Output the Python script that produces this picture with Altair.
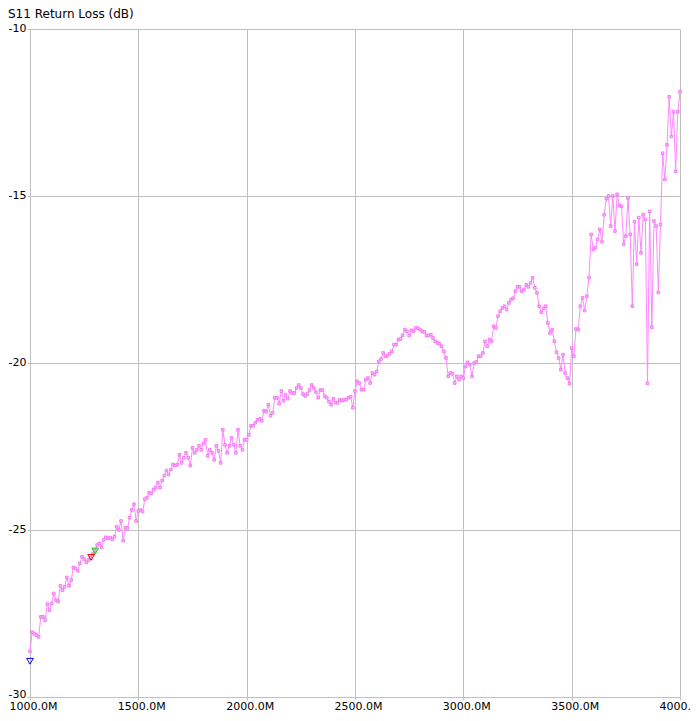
import altair as alt
import pandas as pd

title_text = "S11 Return Loss (dB)"

# sweep frequencies (MHz), 10 MHz step
freq_mhz = list(range(1000, 4001, 10))

s11_1000_1610 = [
    -28.63, -28.06, -28.10, -28.15, -28.20, -27.60, -27.60, -27.70, -27.22, -27.40,
    -27.20, -26.90, -27.10, -27.14, -26.67, -26.80, -26.70, -26.42, -26.67, -26.50,
    -26.12, -26.15, -26.22, -26.00, -25.80, -25.87, -25.97, -25.90, -25.84, -25.72,
    -25.62, -25.45, -25.40, -25.52, -25.30, -25.22, -25.25, -25.23, -25.28, -25.20,
    -24.90, -25.00, -24.73, -25.32, -24.93, -24.95, -24.63, -24.40, -24.23, -24.73,
    -24.43, -24.40, -24.45, -24.08, -24.03, -23.88, -23.90, -23.79, -23.73, -23.58,
    -23.73, -23.52,
]
s11_1620_1990 = [
    -23.37, -23.22, -23.34, -23.19, -23.04, -23.07, -23.04, -22.75, -22.99, -22.84,
    -22.69, -22.84, -23.07, -22.54, -22.69, -22.60, -22.48, -22.60, -22.42, -22.30,
    -22.78, -22.60, -22.69, -22.90, -22.48, -22.63, -22.99, -22.00, -22.45, -22.69,
    -22.48, -22.24, -22.45, -22.69, -22.00, -22.48, -22.60, -22.30,
]
s11_2000_2500 = [
    -22.30, -22.15, -21.88, -21.88, -21.79, -21.70, -21.67, -21.73, -21.43, -21.46,
    -21.25, -21.58, -21.49, -21.04, -21.04, -21.22, -20.84, -21.13, -20.96, -21.07,
    -20.84, -20.90, -20.90, -20.75, -20.66, -20.75, -20.93, -20.99, -20.93, -20.81,
    -20.66, -20.75, -20.87, -21.04, -20.81, -20.81, -20.99, -21.04, -21.16, -21.25,
    -21.07, -21.19, -21.19, -21.10, -21.13, -21.10, -21.10, -21.04, -21.01, -21.34,
    -20.84,
]
s11_2510_3010 = [
    -20.55, -20.60, -20.80, -20.80, -20.50, -20.45, -20.60, -20.30, -20.35, -20.25,
    -19.95, -19.88, -19.70, -19.80, -19.78, -19.72, -19.65, -19.45, -19.45, -19.30,
    -19.28, -19.17, -19.00, -19.05, -19.18, -19.02, -19.05, -18.95, -18.96, -19.00,
    -19.05, -19.07, -19.18, -19.18, -19.15, -19.25, -19.35, -19.40, -19.42, -19.50,
    -19.65, -19.85, -20.40, -20.30, -20.32, -20.60, -20.40, -20.50, -20.40, -20.45,
    -20.10,
]
s11_3020_3530 = [
    -19.98, -20.05, -20.40, -20.00, -19.97, -19.80, -19.80, -19.70, -19.35, -19.50,
    -19.30, -19.35, -18.90, -18.95, -18.60, -18.45, -18.35, -18.30, -18.40, -18.20,
    -18.10, -18.06, -17.85, -17.72, -17.72, -17.85, -17.80, -17.66, -17.72, -17.60,
    -17.45, -17.75, -17.90, -18.30, -18.48, -18.36, -18.30, -18.80, -19.10, -19.00,
    -19.35, -19.68, -19.85, -20.20, -19.75, -20.30, -20.45, -20.62, -19.55, -19.80,
    -18.98, -19.00,
]
s11_3540_4000 = [
    -18.30, -18.05, -18.43, -18.00, -17.44, -16.15, -16.60, -16.55, -16.30, -16.00,
    -16.37, -15.56, -15.08, -15.00, -15.90, -15.00, -16.05, -14.95, -15.28, -15.31,
    -16.45, -16.20, -15.06, -16.15, -18.30, -15.77, -17.04, -15.65, -16.70, -15.56,
    -15.70, -20.61, -15.46, -18.93, -15.75, -15.90, -17.89, -15.85, -13.72, -14.51,
    -13.47, -12.03, -13.22, -12.48, -14.26, -12.48, -11.88,
]

s11_db = (s11_1000_1610 + s11_1620_1990 + s11_2000_2500
          + s11_2510_3010 + s11_3020_3530 + s11_3540_4000)

marker_freq = [1000, 1282, 1301]
marker_db = [-28.93, -25.82, -25.63]
marker_color = ["#0000ff", "#ff0000", "#00cc00"]

x_ticks = [1000, 1500, 2000, 2500, 3000, 3500, 4000]
y_ticks = [-30, -25, -20, -15, -10]

df = pd.DataFrame({"f": freq_mhz, "db": s11_db})
mk = pd.DataFrame({"f": marker_freq, "db": marker_db, "c": marker_color})
tt = pd.DataFrame({"t": [title_text]})

FONT = "DejaVu Sans"
GRID = "#c0c0c0"

x_enc = alt.X(
    "f:Q",
    scale=alt.Scale(domain=[1000, 4000], nice=False, zero=False),
    axis=alt.Axis(
        values=x_ticks, title=None, grid=True, gridColor=GRID, gridWidth=1,
        domain=False, ticks=True, tickColor=GRID, tickSize=3,
        labelExpr="format(datum.value, '.1f') + 'M'", labelFlush=False,
        labelOffset=3, labelPadding=0, labelFont=FONT, labelFontSize=11,
        labelColor="#000000", labelOverlap=False,
    ),
)
y_enc = alt.Y(
    "db:Q",
    scale=alt.Scale(domain=[-30, -10], nice=False, zero=False),
    axis=alt.Axis(
        values=y_ticks, title=None, grid=True, gridColor=GRID, gridWidth=1,
        domain=False, ticks=True, tickColor=GRID, tickSize=3,
        labelExpr="datum.value + ''", labelFlush=False, labelPadding=1,
        labelOffset={"condition": {"test": "datum.value == -30", "value": -3},
                     "value": -1},
        labelFont=FONT, labelFontSize=11, labelColor="#000000",
        labelOverlap=False,
    ),
)

base = alt.Chart(df).encode(x=x_enc, y=y_enc)
line = base.mark_line(color="#ff88ff", strokeWidth=1)
pts = base.mark_point(shape="square", filled=True, size=7, fill="#ffb0ff",
                      stroke="#f070f0", strokeWidth=0.8, opacity=1)
markers = alt.Chart(mk).mark_point(shape="triangle-down", filled=False, size=45,
                                   strokeWidth=1, opacity=1).encode(
    x="f:Q", y="db:Q", color=alt.Color("c:N", scale=None))
title = alt.Chart(tt).mark_text(align="left", baseline="alphabetic", font=FONT,
                                fontSize=12, color="#000000").encode(
    x=alt.value(-22), y=alt.value(-11), text="t:N")

chart = alt.layer(line, pts, markers, title).properties(
    width=650, height=668,
    autosize=alt.AutoSizeParams(type="none"),
    padding={"left": 22, "top": 21, "right": 11, "bottom": 16},
    background="#ffffff",
).configure_view(strokeWidth=0)

chart.save("out.html", embed_options={"renderer": "svg", "actions": False})
